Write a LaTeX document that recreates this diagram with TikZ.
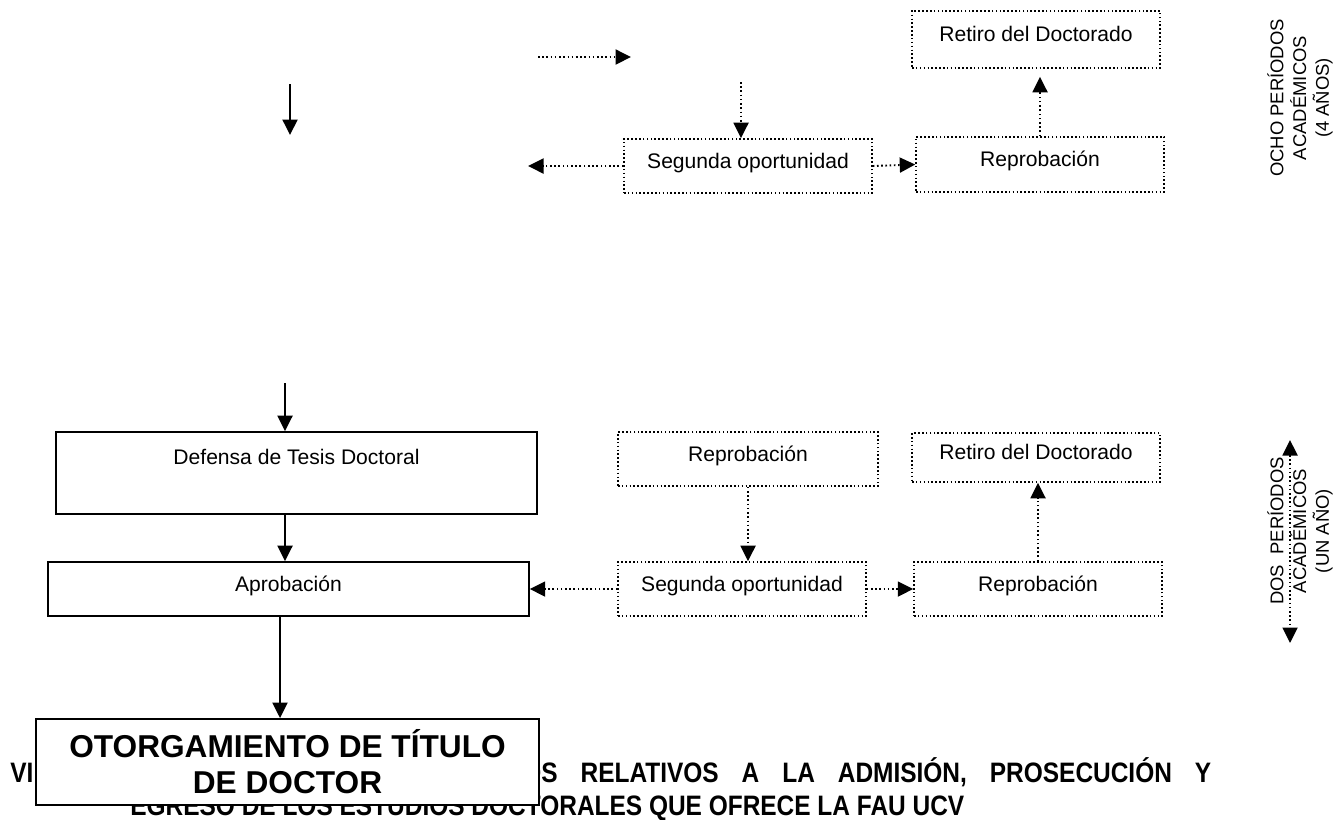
\documentclass[tikz,border=0pt]{standalone}
\usepackage{fontspec}
\setmainfont{Liberation Sans}
\newfontfamily\titlefont[FakeStretch=0.87]{Liberation Sans Bold}
\usetikzlibrary{arrows.meta,positioning}

\begin{document}
\begin{tikzpicture}[x=0.02cm,y=-0.02cm,>={Triangle[length=3.1mm,width=3mm]},
    solid box/.style={rectangle,draw,line width=0.9pt,fill=white,inner sep=0pt,font=\fontsize{12}{14}\selectfont,text height=0.3cm,text depth=0.22cm},
    dotted box/.style={rectangle,draw,line width=0.9pt,dash pattern=on 0.9pt off 1.3pt,inner sep=0pt,font=\fontsize{12}{14}\selectfont,text height=0.3cm,text depth=0.22cm},
    flow/.style={->,line width=1.1pt},
    dotted flow/.style={->,line width=1.1pt,dash pattern=on 0.9pt off 1.5pt},
    title line/.style={anchor=base west,inner sep=0pt,font=\titlefont\fontsize{16}{19}\selectfont},
    period label/.style={rotate=90,align=center,font=\fontsize{10.5}{13}\selectfont}]

\useasboundingbox (0,0) rectangle (1334,819);

% upper part
\node[dotted box,minimum width=4.96cm,minimum height=1.14cm] (retiroA) at (1036,39.5) {Retiro del Doctorado};
\node[dotted box,minimum width=4.96cm,minimum height=1.08cm] (segundaA) at (748,166) {Segunda oportunidad};
\node[dotted box,minimum width=4.96cm,minimum height=1.1cm] (reprobA) at (1040,164.5) {Reprobación};

\coordinate (startA) at (538,57);
\coordinate (endA) at (631,57);
\coordinate (downA) at (290,84);
\coordinate (downB) at (290,135);
\coordinate (segIn) at (741,82);
\coordinate (segOut) at (528,161);

\draw[dotted flow] (startA) -- (endA);
\draw[flow] (downA) -- (downB);
\draw[dotted flow] (segIn) -- (segIn |- segundaA.north);
\draw[dotted flow] (segundaA.west) -- (segundaA.west -| segOut);
\draw[dotted flow] (segundaA.east) -- (reprobA.west);
\draw[dotted flow,shorten >=0.16cm] (reprobA.north) -- (reprobA.north |- retiroA.south);

\node[period label] (ocho) at (1300,98) {OCHO PERÍODOS\\ACADÉMICOS\\(4 AÑOS)};

% lower part
\node[solid box,minimum width=9.62cm,minimum height=1.64cm,text height=0.64cm,text depth=1.0cm] (defensa) at (296.5,473) {Defensa de Tesis Doctoral};
\node[solid box,minimum width=9.62cm,minimum height=1.08cm] (aprob) at (288.5,589) {Aprobación};
\node[dotted box,minimum width=5.2cm,minimum height=1.08cm] (reprobB) at (748,459) {Reprobación};
\node[dotted box,minimum width=4.96cm,minimum height=0.98cm] (retiroB) at (1036,457.5) {Retiro del Doctorado};
\node[dotted box,minimum width=4.96cm,minimum height=1.08cm] (segundaB) at (742,589) {Segunda oportunidad};
\node[dotted box,minimum width=4.96cm,minimum height=1.08cm] (reprobC) at (1038,589) {Reprobación};

\coordinate (defIn) at (285,383);
\coordinate (otIn) at (280,610);

\draw[flow] (defIn) -- (defIn |- defensa.north);
\draw[flow] (defIn |- defensa.south) -- (defIn |- aprob.north);
\draw[dotted flow] (reprobB.south) -- (reprobB.south |- segundaB.north);
\draw[dotted flow] (segundaB.west) -- (aprob.east);
\draw[dotted flow] (segundaB.east) -- (reprobC.west);
\draw[dotted flow] (reprobC.north) -- (reprobC.north |- retiroB.south);

\node[period label] (dos) at (1300,531) {DOS\ \ PERÍODOS\\ACADÉMICOS\\(UN AÑO)};
\coordinate (perTop) at (1290,440);
\coordinate (perBot) at (1290,643);
\draw[dotted flow,<->] (perTop) -- (perBot);

% heading behind the last box
\node[title line] (headA) at (10,782) {VI};
\node[title line] (headB) at (522,782) {\makebox[13.78cm][s]{OS RELATIVOS A LA ADMISIÓN, PROSECUCIÓN Y}};
\node[title line] (headC) at (130,815) {EGRESO DE LOS ESTUDIOS DOCTORALES QUE OFRECE LA FAU UCV};

\node[rectangle,draw,fill=white,line width=1.1pt,inner sep=0pt,minimum width=10.06cm,minimum height=1.72cm,align=center,font=\fontsize{18}{20.4}\selectfont\bfseries] (otorg) at (287.5,762) {OTORGAMIENTO DE TÍTULO\\DE DOCTOR};
\draw[flow] (otIn |- aprob.south) -- (otIn |- otorg.north);

\end{tikzpicture}
\end{document}
